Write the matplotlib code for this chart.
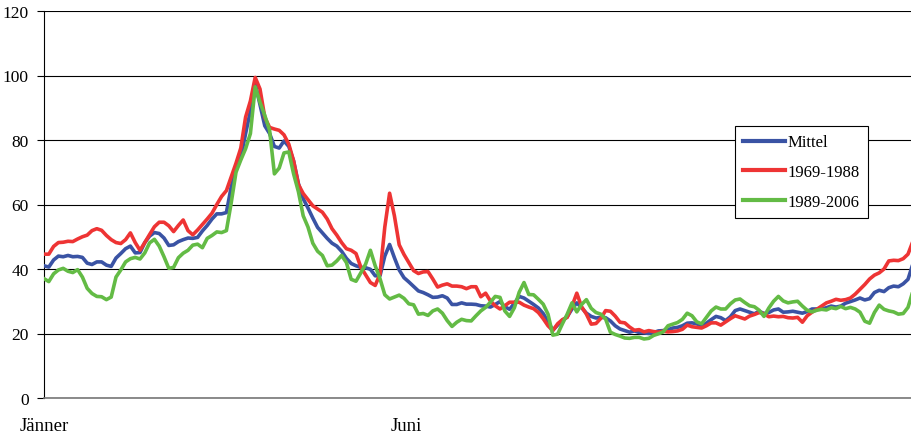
#!/usr/bin/env python3
"""Daily mean discharge curve over the year, with the two sub-periods."""

import matplotlib

matplotlib.use("Agg")
import matplotlib.pyplot as plt


# values every second day, starting 1 January
DAY_STEP = 2

mittel = [
    41.0, 40.6, 42.8, 44.0, 43.8, 44.2, 43.8, 43.9, 43.6, 41.8,
    41.4, 42.2, 42.2, 41.2, 40.8, 43.4, 44.8, 46.3, 47.1, 45.0,
    45.1, 48.2, 50.2, 51.3, 51.0, 49.6, 47.3, 47.5, 48.5, 49.1,
    49.6, 49.5, 49.8, 51.8, 53.5, 55.5, 57.1, 57.1, 57.5, 65.5,
    70.8, 74.5, 82.0, 89.0, 97.5, 91.0, 84.4, 82.0, 78.0, 77.5,
    79.7, 78.0, 73.5, 66.5, 61.8, 58.9, 55.8, 52.9, 51.2, 49.5,
    48.0, 47.1, 45.5, 43.3, 41.7, 41.0, 40.5, 40.4, 39.9, 37.9,
    37.9, 44.0, 47.6, 43.5, 39.7, 37.3, 36.0, 34.6, 33.2, 32.7,
    32.0, 31.2, 31.3, 31.7, 31.0, 29.0, 29.0, 29.5, 29.1, 29.1,
    29.0, 28.6, 28.5, 28.2, 29.0, 29.9, 28.3, 27.5, 29.4, 31.5,
    31.0, 30.0, 29.0, 27.9, 26.2, 23.7, 21.0, 22.6, 24.1, 25.2,
    27.6, 29.5, 28.0, 26.3, 25.3, 24.8, 25.0, 24.9, 23.9, 22.4,
    21.4, 20.9, 20.4, 20.8, 20.3, 20.2, 20.0, 20.3, 20.8, 20.9,
    21.2, 21.7, 21.9, 22.4, 23.2, 23.3, 23.0, 22.3, 23.2, 24.3,
    25.3, 24.9, 24.0, 25.2, 27.1, 27.6, 27.1, 26.6, 26.1, 26.9,
    26.2, 26.5, 27.3, 27.6, 26.6, 26.7, 26.9, 26.6, 26.3, 26.8,
    27.6, 27.6, 27.6, 28.0, 28.5, 28.2, 28.5, 29.4, 29.9, 30.4,
    31.0, 30.4, 30.8, 32.7, 33.4, 33.0, 34.2, 34.7, 34.5, 35.4,
    36.8, 41.5,
]

p1969_1988 = [
    44.6, 44.6, 47.0, 48.2, 48.3, 48.6, 48.5, 49.3, 50.0, 50.5,
    51.9, 52.5, 52.0, 50.4, 49.1, 48.2, 47.9, 49.1, 51.2, 48.2,
    45.8, 48.2, 50.7, 53.1, 54.5, 54.5, 53.4, 51.6, 53.5, 55.2,
    51.9, 50.6, 52.1, 53.8, 55.5, 57.3, 60.0, 62.5, 64.3, 68.5,
    72.8, 77.5, 87.1, 92.1, 99.4, 95.8, 87.0, 83.9, 83.4, 83.0,
    81.6, 78.7, 73.5, 66.2, 63.4, 61.5, 59.6, 58.6, 57.6, 55.5,
    52.5, 50.5, 48.2, 46.3, 45.8, 44.8, 40.6, 38.2, 35.8, 34.9,
    38.4, 53.0, 63.5, 56.5, 47.5, 44.5, 42.0, 39.5, 38.6, 39.1,
    39.2, 36.9, 34.4, 35.0, 35.4, 34.7, 34.7, 34.5, 33.9, 34.5,
    34.5, 31.4, 32.5, 30.1, 28.6, 27.6, 28.6, 29.7, 29.7, 29.7,
    28.8, 28.2, 27.7, 26.5, 24.6, 22.4, 20.9, 23.0, 24.3, 25.0,
    28.5, 32.5, 28.3, 26.0, 22.9, 23.1, 24.7, 27.1, 26.9, 25.4,
    23.5, 23.3, 22.0, 21.0, 21.2, 20.5, 20.9, 20.6, 20.4, 20.7,
    20.5, 20.6, 20.8, 21.3, 22.6, 22.1, 21.9, 21.7, 22.4, 23.3,
    23.3, 22.6, 23.6, 24.6, 25.5, 25.0, 24.5, 25.4, 25.9, 26.5,
    26.1, 25.2, 25.4, 25.2, 25.3, 24.9, 24.8, 25.0, 23.5, 25.5,
    26.6, 27.5, 28.5, 29.5, 30.0, 30.6, 30.3, 30.5, 31.0, 32.2,
    33.7, 35.2, 36.9, 38.1, 38.8, 40.0, 42.5, 42.7, 42.6, 43.2,
    44.6, 48.5,
]

p1989_2006 = [
    37.0, 36.1, 38.5, 39.7, 40.2, 39.3, 38.9, 39.8, 37.5, 34.0,
    32.4, 31.5, 31.4, 30.5, 31.3, 37.5, 39.7, 42.2, 43.2, 43.6,
    43.1, 45.0, 48.1, 49.2, 47.1, 43.8, 40.2, 40.5, 43.5, 44.9,
    45.8, 47.4, 47.7, 46.6, 49.5, 50.4, 51.5, 51.3, 51.9, 60.5,
    70.0, 73.8, 77.3, 82.0, 96.5, 91.7, 87.6, 83.0, 69.5, 71.3,
    76.0, 76.3, 69.5, 64.0, 56.5, 53.0, 48.0, 45.5, 44.2, 41.0,
    41.2, 42.5, 44.2, 42.0, 36.8, 36.2, 38.8, 41.5, 45.8, 41.0,
    37.0, 32.0, 30.7, 31.3, 31.9, 30.9, 29.2, 28.9, 26.0, 26.2,
    25.6, 27.0, 27.6, 26.3, 24.0, 22.2, 23.5, 24.4, 24.0, 23.9,
    25.5, 27.0, 28.1, 29.7, 31.5, 31.2, 27.0, 25.3, 28.0, 32.8,
    35.8, 32.1, 32.0, 30.6, 29.1, 26.0, 19.5, 19.8, 23.0, 26.0,
    29.5, 26.7, 29.0, 30.5, 27.8, 26.5, 26.0, 24.5, 20.4, 19.7,
    19.2, 18.6, 18.5, 18.8, 18.8, 18.3, 18.5, 19.4, 19.9, 20.5,
    22.4, 22.9, 23.4, 24.4, 26.3, 25.5, 23.6, 23.0, 25.0, 27.0,
    28.2, 27.6, 27.6, 29.2, 30.4, 30.7, 29.6, 28.6, 28.3, 27.2,
    25.3, 27.9, 30.0, 31.5, 30.1, 29.5, 29.8, 30.0, 28.5, 27.2,
    26.7, 27.2, 27.5, 27.3, 28.0, 27.7, 28.4, 27.7, 28.1, 27.6,
    26.6, 23.8, 23.2, 26.5, 28.8, 27.5, 27.0, 26.7, 26.0, 26.2,
    28.1, 33.0,
]

series_names = ["Mittel", "1969-1988", "1989-2006"]
month_ticks = [0, 151]
month_labels = ["Jänner", "Juni"]
y_ticks = [0, 20, 40, 60, 80, 100, 120]

COLORS = ["#3a53a4", "#ee3434", "#63bb45"]
FONT = ["Liberation Serif", "DejaVu Serif"]


def main():
    plt.rcParams["font.family"] = FONT
    plt.rcParams["font.size"] = 13.5

    fig = plt.figure(figsize=(9.12, 4.39), dpi=100)
    ax = fig.add_axes([44 / 912, 40 / 439, 868 / 912, 387 / 439])

    days = [DAY_STEP * i for i in range(len(mittel))]
    for values, name, color in zip([mittel, p1969_1988, p1989_2006],
                                   series_names, COLORS):
        ax.plot(days, values, color=color, lw=2.6, label=name,
                solid_joinstyle="round", zorder=3)

    ax.set_xlim(0, 868 / 2.4)
    ax.set_ylim(0, 120)
    ax.set_yticks(y_ticks)
    ax.set_xticks(month_ticks)
    ax.set_xticklabels(month_labels, fontsize=13.5)
    ax.tick_params(axis="x", length=0, pad=14)
    ax.tick_params(axis="y", length=5, width=0.8, direction="out", pad=6,
                   labelsize=12.5)

    ax.grid(axis="y", color="black", lw=0.8)
    ax.set_axisbelow(True)
    for side in ["top", "right"]:
        ax.spines[side].set_visible(False)
    ax.spines["left"].set_linewidth(0.8)
    ax.spines["bottom"].set_color("#777777")
    ax.spines["bottom"].set_linewidth(1.2)

    leg = ax.legend(loc="upper left", bbox_to_anchor=(735 / 912, 1 - 127 / 439),
                    bbox_transform=fig.transFigure, borderaxespad=0,
                    fancybox=False, framealpha=1, edgecolor="black",
                    handlelength=2.5, handletextpad=0.15, labelspacing=0.83,
                    borderpad=0.5, fontsize=12)
    leg.get_frame().set_linewidth(0.8)
    for line in leg.get_lines():
        line.set_linewidth(3)

    fig.savefig("out.png", dpi=100)
    plt.close(fig)


if __name__ == "__main__":
    main()
